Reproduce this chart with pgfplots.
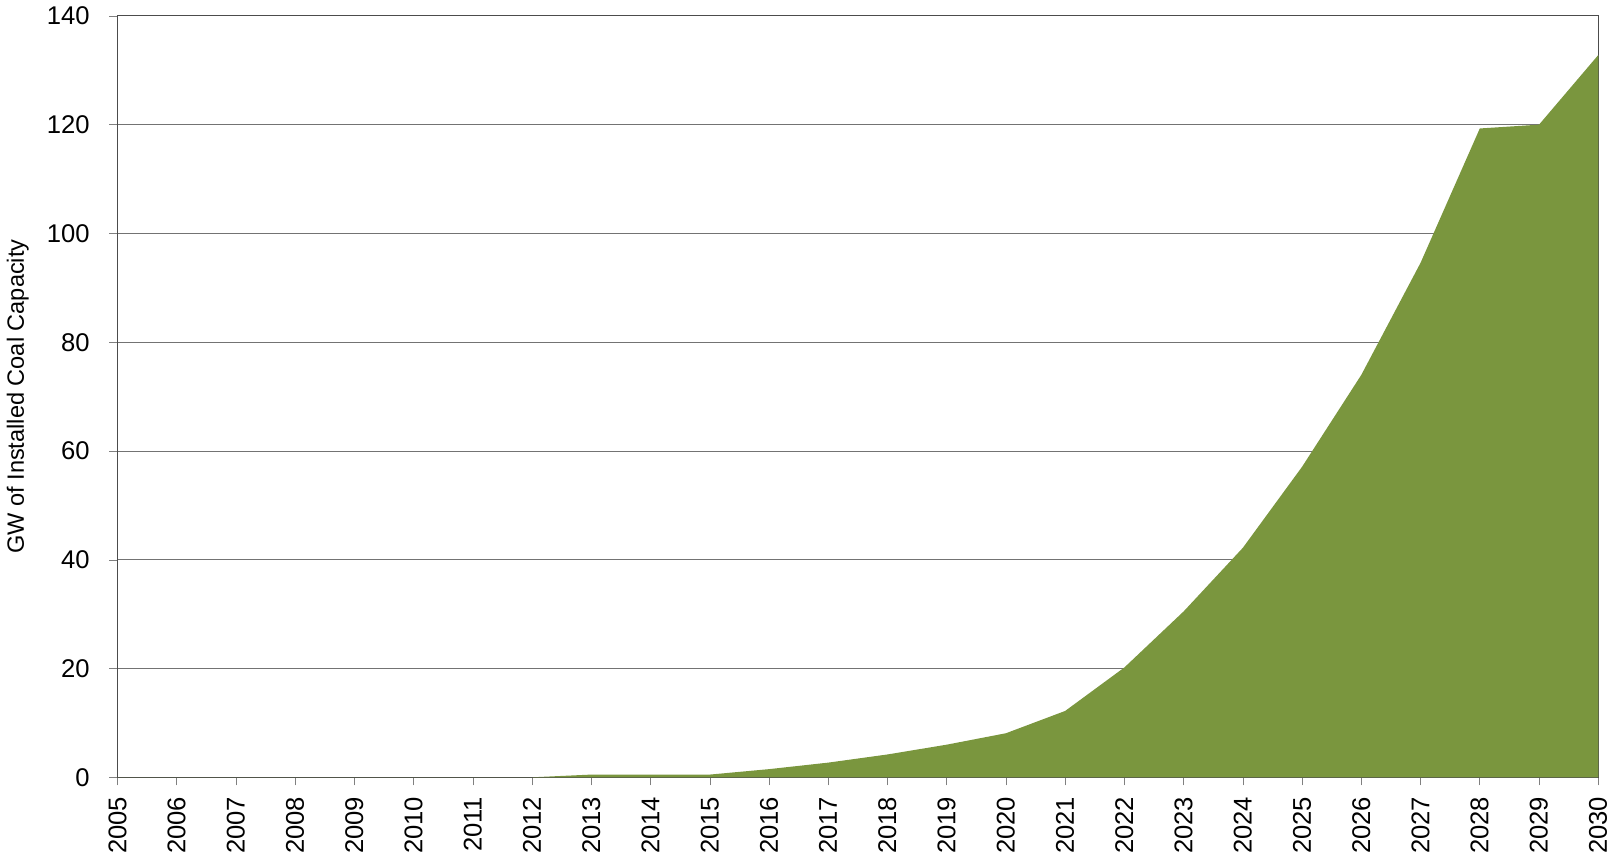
\documentclass[border=0pt]{standalone}
\usepackage{pgfplots}
\pgfplotsset{compat=1.18}
\usepackage{fontspec}
\setmainfont{Liberation Sans}
\definecolor{areag}{HTML}{7A963E}
\begin{document}
\begin{tikzpicture}
\begin{axis}[
  scale only axis, width=722.5pt, height=371.5pt,
  xmin=2005, xmax=2030, ymin=0, ymax=140,
  xtick={2005,...,2030}, ytick={0,20,...,140},
  xticklabel style={rotate=90, anchor=east, font=\fontsize{12.5}{14}\selectfont, xshift=-2pt},
  yticklabel style={font=\fontsize{12.5}{14}\selectfont, xshift=-6pt},
  /pgf/number format/assume math mode=true,
  /pgf/number format/1000 sep={},
  ymajorgrids, grid style={black!55, line width=0.4pt},
  tick align=outside, tick pos=left, major tick length=4pt,
  axis line style={black!70},
  ylabel={GW of Installed Coal Capacity},
  ylabel style={font=\fontsize{11.5}{13}\selectfont, yshift=2pt},
]
\addplot[fill=areag, draw=none] coordinates {
(2005,0)(2006,0)(2007,0)(2008,0)(2009,0)(2010,0)(2011,0)(2012,0)
(2013,0.5)(2014,0.5)(2015,0.5)(2016,1.5)(2017,2.7)(2018,4.2)(2019,6)
(2020,8.1)(2021,12.2)(2022,20.2)(2023,30.5)(2024,42.2)(2025,57.1)
(2026,74)(2027,94.6)(2028,119.3)(2029,120)(2030,132.8)
} \closedcycle;
\end{axis}
\end{tikzpicture}
\end{document}
